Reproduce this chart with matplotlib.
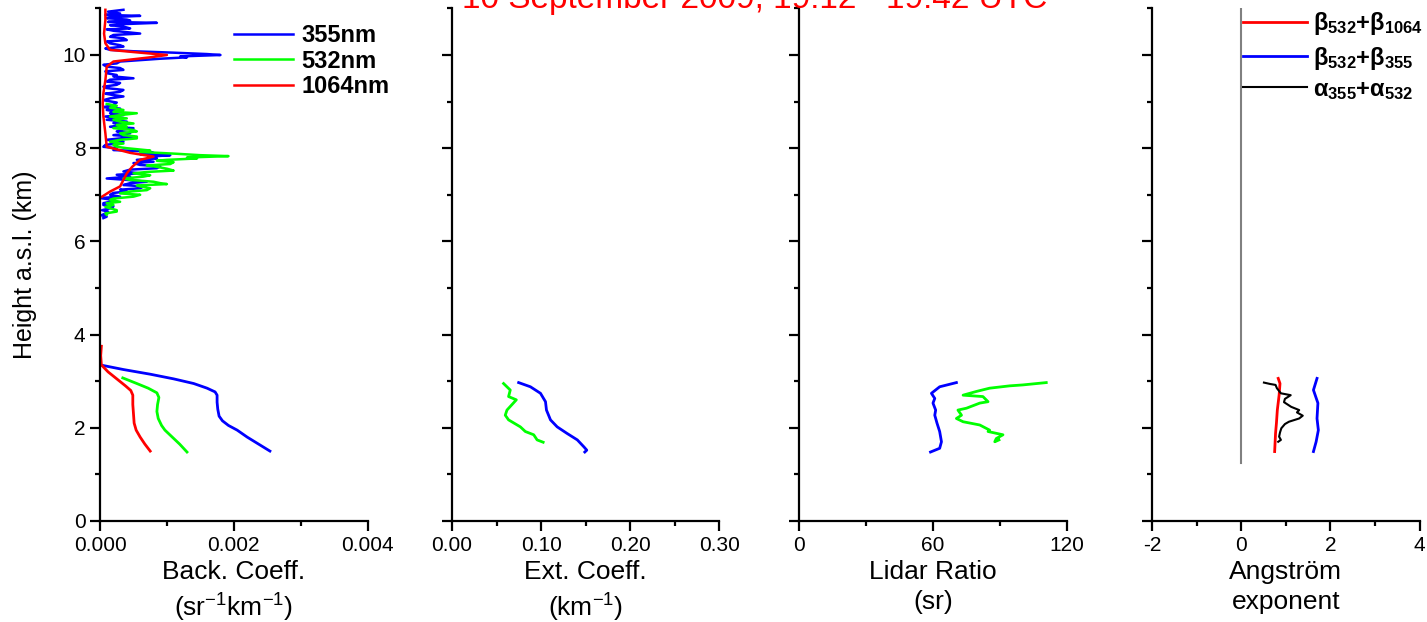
import numpy as np
import matplotlib
matplotlib.use("Agg")
import matplotlib.pyplot as plt
from matplotlib.ticker import MultipleLocator, FormatStrFormatter

plt.rcParams['font.family'] = ['Liberation Sans', 'DejaVu Sans']
plt.rcParams['mathtext.fontset'] = 'custom'
plt.rcParams['mathtext.rm'] = 'Liberation Sans'
plt.rcParams['mathtext.it'] = 'Liberation Sans:italic'
plt.rcParams['mathtext.bf'] = 'Liberation Sans:bold'

title = "10 September 2009, 19:12 - 19:42 UTC"

# ---- backscatter, upper layers (km, sr-1 km-1)
b355_up_h = [10.97, 10.93, 10.89, 10.86, 10.84, 10.81, 10.79, 10.76, 10.74, 10.71,
             10.69, 10.66, 10.64, 10.61, 10.57, 10.55, 10.52, 10.49, 10.46, 10.43,
             10.39, 10.36, 10.32, 10.29, 10.25, 10.21, 10.18, 10.14, 10.11, 10.08,
             10.05, 10.02, 10.00, 9.97, 9.95, 9.92, 9.89, 9.86, 9.82, 9.79,
             9.75, 9.72, 9.68, 9.65, 9.61, 9.57, 9.54, 9.50, 9.47, 9.43,
             9.40, 9.36, 9.32, 9.29, 9.25, 9.21, 9.17, 9.14, 9.11, 9.07,
             9.03, 8.98, 8.93, 8.88, 8.85, 8.82, 8.78, 8.75, 8.71, 8.68,
             8.64, 8.61, 8.57, 8.54, 8.50, 8.46, 8.43, 8.39, 8.36, 8.32,
             8.28, 8.25, 8.21, 8.18, 8.14, 8.11, 8.07, 8.03, 8.00, 7.96,
             7.93, 7.90, 7.87, 7.85, 7.82, 7.78, 7.75, 7.71, 7.68, 7.64,
             7.61, 7.57, 7.54, 7.50, 7.46, 7.43, 7.39, 7.35, 7.32, 7.28,
             7.25, 7.21, 7.18, 7.14, 7.11, 7.07, 7.04, 7.00, 6.96, 6.93,
             6.89, 6.85, 6.82, 6.78, 6.75, 6.71, 6.67, 6.64, 6.60, 6.56,
             6.53, 6.50]
b355_up = [0.00035, 0.00012, 0.00030, 0.00008, 0.00060, 0.00015, 0.00010, 0.00040, 0.00045, 0.00012,
           0.00085, 0.00030, 0.00015, 0.00035, 0.00045, 0.00010, 0.00020, 0.00040, 0.00060, 0.00020,
           0.00015, 0.00035, 0.00040, 0.00010, 0.00015, 0.00030, 0.00035, 0.00008, 0.00015, 0.00050,
           0.00110, 0.00160, 0.00180, 0.00120, 0.00130, 0.00090, 0.00060, 0.00030, 0.00025, 0.00005,
           0.00010, 0.00030, 0.00035, 0.00008, 0.00010, 0.00025, 0.00020, 0.00050, 0.00015, 0.00010,
           0.00030, 0.00025, 0.00005, 0.00010, 0.00035, 0.00030, 0.00008, 0.00020, 0.00035, 0.00015,
           0.00005, 0.00025, 0.00020, 0.00005, 0.00030, 0.00010, 0.00025, 0.00015, 0.00035, 0.00008,
           0.00030, 0.00010, 0.00040, 0.00020, 0.00035, 0.00015, 0.00050, 0.00030, 0.00025, 0.00045,
           0.00020, 0.00050, 0.00030, 0.00010, 0.00035, 0.00030, 0.00008, 0.00005, 0.00025, 0.00020,
           0.00070, 0.00080, 0.00060, 0.00105, 0.00075, 0.00085, 0.00055, 0.00080, 0.00050, 0.00060,
           0.00090, 0.00085, 0.00045, 0.00035, 0.00060, 0.00025, 0.00045, 0.00010, 0.00040, 0.00070,
           0.00045, 0.00035, 0.00065, 0.00060, 0.00030, 0.00040, 0.00020, 0.00015, 0.00030, 0.00000,
           0.00020, 0.00015, 0.00005, 0.00005, 0.00020, 0.00015, 0.00003, 0.00012, 0.00008, 0.00002,
           0.00010, 0.00005]

b532_up_h = [8.95, 8.91, 8.87, 8.82, 8.78, 8.75, 8.71, 8.68, 8.64, 8.61,
             8.57, 8.53, 8.50, 8.46, 8.43, 8.39, 8.36, 8.32, 8.28, 8.25,
             8.21, 8.18, 8.14, 8.10, 8.07, 8.03, 8.00, 7.95, 7.92, 7.88,
             7.85, 7.83, 7.80, 7.78, 7.75, 7.73, 7.70, 7.66, 7.63, 7.60,
             7.56, 7.52, 7.49, 7.46, 7.42, 7.39, 7.35, 7.32, 7.28, 7.25,
             7.23, 7.20, 7.18, 7.14, 7.10, 7.07, 7.03, 7.00, 6.96, 6.92,
             6.89, 6.85, 6.82, 6.78, 6.74, 6.71, 6.67, 6.64, 6.60, 6.57]
b532_up = [0.00010, 0.00025, 0.00015, 0.00035, 0.00020, 0.00055, 0.00030, 0.00015, 0.00040, 0.00020,
           0.00030, 0.00050, 0.00025, 0.00040, 0.00020, 0.00050, 0.00055, 0.00030, 0.00035, 0.00055,
           0.00055, 0.00030, 0.00015, 0.00035, 0.00020, 0.00025, 0.00040, 0.00075, 0.00060, 0.00115,
           0.00150, 0.00192, 0.00130, 0.00145, 0.00100, 0.00085, 0.00110, 0.00105, 0.00070, 0.00085,
           0.00100, 0.00110, 0.00070, 0.00050, 0.00075, 0.00065, 0.00035, 0.00045, 0.00080, 0.00090,
           0.00100, 0.00055, 0.00060, 0.00075, 0.00070, 0.00045, 0.00030, 0.00060, 0.00050, 0.00020,
           0.00015, 0.00030, 0.00010, 0.00020, 0.00008, 0.00015, 0.00025, 0.00025, 0.00008, 0.00010]

b1064_up_h = [10.97, 10.75, 10.46, 10.25, 10.11, 10.05, 10.00, 9.95, 9.86, 9.75,
              9.46, 9.18, 8.96, 8.68, 8.32, 8.03, 7.90, 7.82, 7.75, 7.60,
              7.46, 7.32, 7.18, 7.07, 6.96]
b1064_up = [0.00008, 0.00008, 0.00006, 0.00008, 0.00015, 0.00060, 0.00100, 0.00075, 0.00020, 0.00010,
            0.00008, 0.00005, 0.00004, 0.00005, 0.00008, 0.00010, 0.00045, 0.00080, 0.00060, 0.00048,
            0.00040, 0.00035, 0.00030, 0.00015, 0.00003]

# ---- backscatter, lower layer
b355_lo_h = [3.35, 3.25, 3.15, 3.05, 2.95, 2.85, 2.77, 2.70, 2.55, 2.40, 2.25, 2.15, 2.05, 1.95, 1.80, 1.65, 1.50]
b355_lo = [0.00000, 0.00035, 0.00075, 0.00110, 0.00140, 0.00160, 0.00172, 0.00175, 0.00175, 0.00176,
           0.00178, 0.00183, 0.00192, 0.00205, 0.00220, 0.00237, 0.00254]
b532_lo_h = [3.07, 2.95, 2.85, 2.75, 2.65, 2.50, 2.35, 2.20, 2.05, 1.95, 1.80, 1.65, 1.48]
b532_lo = [0.00034, 0.00055, 0.00072, 0.00085, 0.00088, 0.00086, 0.00085, 0.00087, 0.00092, 0.00097,
           0.00108, 0.00119, 0.00130]
b1064_lo_h = [3.75, 3.55, 3.35, 3.20, 3.05, 2.90, 2.80, 2.70, 2.50, 2.30, 2.10, 1.95, 1.80, 1.65, 1.50]
b1064_lo = [0.00002, 0.00001, 0.00002, 0.00012, 0.00025, 0.00038, 0.00046, 0.00049, 0.00049, 0.00050,
            0.00051, 0.00054, 0.00060, 0.00067, 0.00075]

# ---- extinction (km-1)
e532_h = [2.95, 2.81, 2.67, 2.60, 2.38, 2.27, 2.17, 2.02, 1.92, 1.85, 1.74, 1.69]
e532 = [0.0579, 0.0654, 0.0635, 0.0722, 0.0617, 0.0598, 0.0635, 0.0767, 0.0823, 0.0917, 0.0955, 0.1023]
e355_h = [2.97, 2.88, 2.74, 2.56, 2.38, 2.17, 2.02, 1.88, 1.74, 1.59, 1.52, 1.48]
e355 = [0.0748, 0.0880, 0.0993, 0.1049, 0.1060, 0.1105, 0.1180, 0.1290, 0.1406, 0.1480, 0.1512, 0.1490]

# ---- lidar ratio (sr)
lr355_h = [2.97, 2.88, 2.74, 2.63, 2.53, 2.38, 2.27, 2.10, 1.92, 1.70, 1.56, 1.48]
lr355 = [70.6, 63.1, 59.4, 60.9, 60.1, 61.3, 60.9, 61.9, 63.1, 63.9, 63.1, 59.0]
lr532_h = [2.97, 2.92, 2.90, 2.85, 2.78, 2.70, 2.67, 2.56, 2.53, 2.42, 2.38, 2.27, 2.20, 2.13,
           2.06, 1.95, 1.92, 1.85, 1.77, 1.70, 1.74]
lr532 = [110.9, 100.4, 94.5, 85.5, 79.6, 73.6, 82.5, 84.8, 81.1, 75.1, 71.3, 72.9, 70.6, 73.6,
         81.1, 85.5, 84.8, 91.5, 88.5, 87.8, 89.7]

# ---- Angstrom exponents
ae_b1064_h = [3.06, 2.95, 2.70, 2.38, 2.10, 1.88, 1.49]
ae_b1064 = [0.83, 0.87, 0.85, 0.81, 0.79, 0.77, 0.75]
ae_b355_h = [3.06, 2.81, 2.53, 2.20, 1.95, 1.70, 1.49]
ae_b355 = [1.70, 1.62, 1.72, 1.70, 1.73, 1.68, 1.62]
ae_ext_h = [2.97, 2.94, 2.92, 2.85, 2.74, 2.70, 2.62, 2.55, 2.45, 2.38, 2.33, 2.26, 2.20, 2.13,
            2.08, 1.99, 1.90, 1.81, 1.74, 1.70]
ae_ext = [0.51, 0.65, 0.77, 0.80, 0.89, 1.11, 0.98, 0.96, 1.12, 1.30, 1.25, 1.38, 1.30, 1.07,
          0.98, 0.90, 0.87, 0.85, 0.89, 0.83]
ae_zero_h = [1.24, 11.0]

xlims = [(0, 0.004), (0, 0.30), (0, 120), (-2, 4)]
xmajor = [0.002, 0.10, 60, 2]
xlabels = ["Back. Coeff.\n(sr$^{-1}$km$^{-1}$)", "Ext. Coeff.\n(km$^{-1}$)",
           "Lidar Ratio\n(sr)", "Angstr\u00f6m\nexponent"]
xtick_fmt = ["%.3f", "%.2f", "%d", "%d"]

fig = plt.figure(figsize=(14.27, 6.22), dpi=100)
lefts = [0.0701, 0.3167, 0.5599, 0.8073]
axes = [fig.add_axes([l, 0.1624, 0.1875, 0.8241]) for l in lefts]

for i, ax in enumerate(axes):
    ax.set_xlim(*xlims[i])
    ax.set_ylim(0, 11)
    ax.spines['top'].set_visible(False)
    ax.spines['right'].set_visible(False)
    ax.spines['left'].set_linewidth(1.6)
    ax.spines['bottom'].set_linewidth(1.6)
    ax.xaxis.set_major_locator(MultipleLocator(xmajor[i]))
    ax.xaxis.set_minor_locator(MultipleLocator(xmajor[i] / 2))
    ax.yaxis.set_major_locator(MultipleLocator(2))
    ax.yaxis.set_minor_locator(MultipleLocator(1))
    ax.tick_params(which='major', direction='out', length=7, width=1.6, labelsize=15)
    ax.tick_params(which='minor', direction='out', length=3.5, width=1.6)
    ax.xaxis.set_major_formatter(FormatStrFormatter(xtick_fmt[i]))
    ax.set_xlabel(xlabels[i], fontsize=19, linespacing=1.3, labelpad=4)
    if i > 0:
        ax.tick_params(axis='y', labelleft=False)

ax1, ax2, ax3, ax4 = axes
ax1.set_ylabel("Height a.s.l. (km)", fontsize=18, labelpad=18)

ax1.plot(b355_up, b355_up_h, color='#0000ff', lw=1.8, label='355nm')
ax1.plot(b532_up, b532_up_h, color='#00ff00', lw=1.8, label='532nm')
ax1.plot(b1064_up, b1064_up_h, color='#ff0000', lw=1.8, label='1064nm')
ax1.plot(b355_lo, b355_lo_h, color='#0000ff', lw=2)
ax1.plot(b532_lo, b532_lo_h, color='#00ff00', lw=2)
ax1.plot(b1064_lo, b1064_lo_h, color='#ff0000', lw=2)
ax1.legend(loc='upper left', bbox_to_anchor=(0.50, 0.97), frameon=False,
           prop={'weight': 'bold', 'size': 17}, handlelength=2.5,
           handletextpad=0.35, labelspacing=0.12, borderpad=0, borderaxespad=0)

ax2.plot(e532, e532_h, color='#00ff00', lw=2)
ax2.plot(e355, e355_h, color='#0000ff', lw=2)

ax3.plot(lr355, lr355_h, color='#0000ff', lw=2)
ax3.plot(lr532, lr532_h, color='#00ff00', lw=2)

ax4.plot([0, 0], ae_zero_h, color='gray', lw=1.5)
ax4.plot(ae_b1064, ae_b1064_h, color='#ff0000', lw=2,
         label=r'$\mathbf{\beta_{532}{+}\beta_{1064}}$')
ax4.plot(ae_b355, ae_b355_h, color='#0000ff', lw=2,
         label=r'$\mathbf{\beta_{532}{+}\beta_{355}}$')
ax4.plot(ae_ext, ae_ext_h, color='black', lw=1.5,
         label=r'$\mathbf{\alpha_{355}{+}\alpha_{532}}$')
ax4.legend(loc='upper left', bbox_to_anchor=(0.34, 0.996), frameon=False,
           prop={'size': 17}, handlelength=2.7, handletextpad=0.25,
           labelspacing=0.3, borderpad=0, borderaxespad=0)

fig.text(0.529, 0.987, title, color='#ff0000', fontsize=24, ha='center', va='baseline')

fig.savefig("out.png", dpi=100)
